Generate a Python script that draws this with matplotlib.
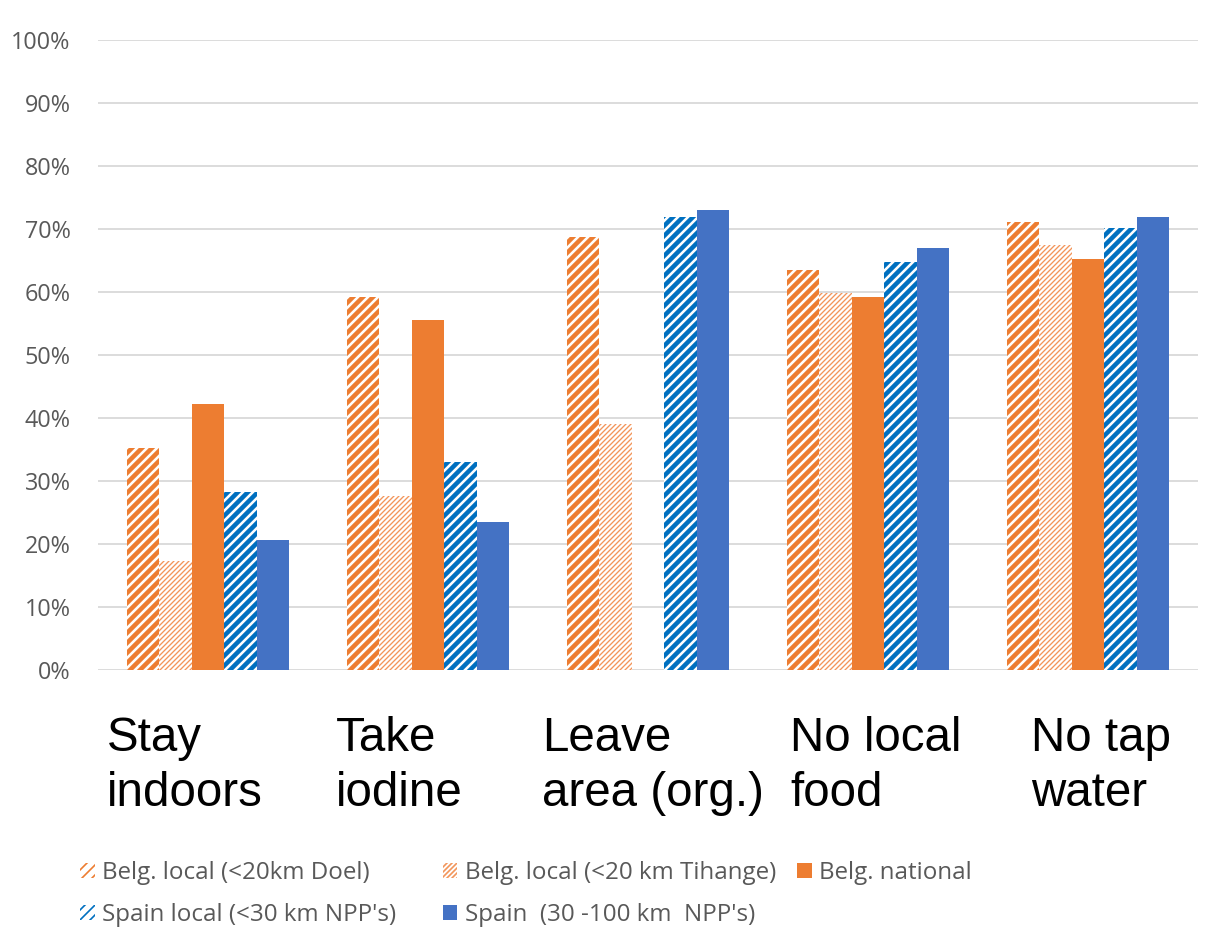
import numpy as np
import matplotlib
matplotlib.use("Agg")
import matplotlib.pyplot as plt
from matplotlib.patches import Patch
from matplotlib.ticker import PercentFormatter
from matplotlib.transforms import blended_transform_factory

# Share of respondents willing to follow each protective action
actions = ["Stay\nindoors", "Take\niodine", "Leave\narea (org.)", "No local\nfood", "No tap\nwater"]
series_names = ["Belg. local (<20km Doel)", "Belg. local (<20 km Tihange)", "Belg. national",
                "Spain local (<30 km NPP's)", "Spain  (30 -100 km  NPP's)"]
belg_doel = [0.352, 0.592, 0.687, 0.635, 0.711]
belg_tihange = [0.173, 0.276, 0.390, 0.598, 0.675]
belg_national = [0.422, 0.556, np.nan, 0.592, 0.652]
spain_local = [0.283, 0.330, 0.719, 0.648, 0.702]
spain_far = [0.206, 0.235, 0.730, 0.670, 0.719]
yticks = np.arange(0, 1.01, 0.1)

# left offset of each action label relative to its bar group
label_x_offset = [-0.46, -0.42, -0.48, -0.355, -0.26]
# legend entry anchors in pixels (left x, row centre y)
legend_pos = [(80, 873), (443, 873), (797, 873), (80, 915), (443, 915)]

ORANGE = "#ED7D31"
BLUE = "#4472C4"
BLUE_STRIPE = "#0070C0"

# style per series: (face, hatch colour, hatch, hatch width)
styles = [
    ("white", ORANGE, "////", 2.7),
    ("white", "#F2955A", "////////", 0.8),
    (ORANGE, ORANGE, None, 0),
    ("white", BLUE_STRIPE, "////", 2.7),
    (BLUE, BLUE, None, 0),
]
series = [belg_doel, belg_tihange, belg_national, spain_local, spain_far]

W, H, DPI = 1216, 933, 120
fig = plt.figure(figsize=(W / DPI, H / DPI), dpi=DPI)
ax = fig.add_axes([98 / W, 1 - 670 / H, 1100 / W, 630 / H])

x = np.arange(len(actions))
width = 0.148


def style_bars(patches, face, hcol, hatch, hlw):
    for p in patches:
        p.set_facecolor(face)
        p.set_edgecolor(hcol)
        p.set_linewidth(0)
        if hatch:
            p.set_hatch(hatch)
            if hasattr(p, "set_hatch_linewidth"):
                p.set_hatch_linewidth(hlw)


handles = []
for i, (vals, (face, hcol, hatch, hlw)) in enumerate(zip(series, styles)):
    with plt.rc_context({"hatch.linewidth": max(hlw, 0.1)}):
        bars = ax.bar(x + (i - 2) * width, vals, width, zorder=3)
        style_bars(bars, face, hcol, hatch, hlw)
        h = Patch(label=series_names[i])
        style_bars([h], face, hcol, hatch, hlw)
    handles.append(h)

ax.set_xlim(-0.5, len(actions) - 0.5)
ax.set_ylim(0, 1.0)
ax.set_yticks(yticks)
ax.yaxis.set_major_formatter(PercentFormatter(1.0, decimals=0))
ax.set_xticks([])
ax.grid(axis="y", color="#D9D9D9", linewidth=1.1, zorder=0)
for s in ax.spines.values():
    s.set_visible(False)
ax.tick_params(axis="y", length=0, pad=16.5, labelsize=14, labelcolor="#595959")
for t in ax.get_yticklabels():
    t.set_fontfamily("Open Sans")

# big action labels under each group
trans = blended_transform_factory(ax.transData, fig.transFigure)
for i, lab in enumerate(actions):
    fig.text(i + label_x_offset[i], 1 - 716 / H, lab, transform=trans,
             ha="left", va="top", fontsize=28.5, family="Liberation Sans",
             color="black", linespacing=1.28)

# one small legend per series so each entry sits at its own spot
for h, name, (px, py) in zip(handles, series_names, legend_pos):
    leg = fig.legend([h], [name], loc="center left", bbox_to_anchor=(px / W, 1 - py / H),
                     frameon=False, handlelength=0.6, handleheight=0.6, handletextpad=0.3,
                     borderpad=0, borderaxespad=0,
                     prop={"family": "Open Sans", "size": 14.5})
    for t in leg.get_texts():
        t.set_color("#595959")

fig.savefig("out.png", dpi=DPI)
